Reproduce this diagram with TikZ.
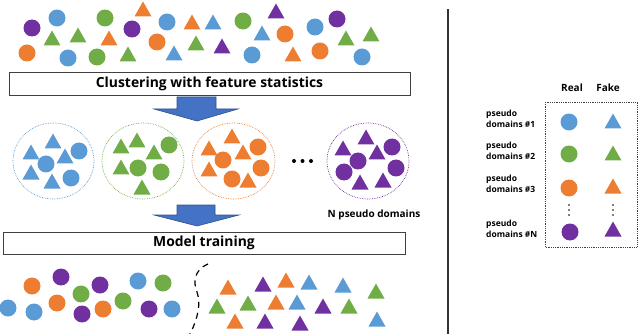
\documentclass[tikz,border=0pt]{standalone}
\usepackage{fontspec}
\setmainfont{Open Sans}
\definecolor{cb}{HTML}{5B9BD5}
\definecolor{cg}{HTML}{70AD47}
\definecolor{co}{HTML}{ED7D31}
\definecolor{cp}{HTML}{7030A0}
\definecolor{arrowfill}{HTML}{4472C4}
\definecolor{arrowline}{HTML}{2F528F}
\newcommand\circS[3]{\fill[#1] (#2,#3) circle (8.5pt);}
\newcommand\triS[3]{\fill[#1] ($(#2,#3)+(-8.5,6.5)$) -- ++(17,0) -- ++(-8.5,-15) -- cycle;}
\usetikzlibrary{calc}
\tikzset{
  stagebox/.style={draw=black!75, line width=0.8pt, inner sep=0pt, font=\bfseries\fontsize{13.9}{16}\selectfont},
  blockarrow/.style={fill=arrowfill, draw=arrowline, line width=0.6pt},
  cluster/.style={densely dotted, line width=0.7pt},
  lbl/.style={font=\bfseries\fontsize{8.5}{10.5}\selectfont, align=left, inner sep=0pt},
  hdr/.style={font=\bfseries\fontsize{10}{12}\selectfont, inner sep=0pt},
}
\begin{document}
\begin{tikzpicture}[x=1pt,y=-1pt]
\useasboundingbox (0,0) rectangle (640,334);
% top scattered
\circS{cp}{32}{28} \circS{cb}{57}{18} \circS{cg}{105}{18} \triS{co}{143}{10}
\triS{cg}{52}{39} \triS{cg}{78}{36} \triS{co}{109}{39} \circS{cp}{132}{29}
\circS{co}{27}{53} \circS{cb}{68}{58} \circS{cg}{97}{57} \triS{cg}{128}{55}
\circS{co}{157}{42} \circS{cb}{167}{22} \triS{co}{192}{23} \triS{cb}{213}{23}
\circS{cg}{243}{21} \triS{cp}{276}{12} \triS{cb}{262}{34} \circS{co}{285}{34}
\circS{cb}{315}{27} \circS{cp}{337}{19} \triS{cg}{346}{39} \triS{cg}{371}{35}
\triS{cb}{174}{54} \triS{cg}{196}{44} \triS{cp}{222}{47} \circS{cb}{252}{55}
\triS{co}{293}{55} \circS{co}{320}{51} \circS{cb}{362}{57}
% stage 1 box
\node[stagebox, minimum width=401pt, minimum height=23pt] (clus) at (209.5,83.5) {Clustering with feature statistics};
% arrow 1
\draw[blockarrow] (177,97) -- (216,97) -- (216,109) -- (238,109) -- (197,121) -- (154,109) -- (177,109) -- cycle;
% clusters
\draw[cluster, cb] (53.5,161) ellipse [x radius=40.5pt, y radius=38pt];
\draw[cluster, cg] (143,161) ellipse [x radius=41pt, y radius=38pt];
\draw[cluster, co] (233.5,161) ellipse [x radius=41.5pt, y radius=38pt];
\draw[cluster, cp] (368,161) ellipse [x radius=41pt, y radius=38pt];
\triS{cb}{53}{142} \triS{cb}{31}{153} \circS{cb}{79}{151} \circS{cb}{46}{164}
\triS{cb}{65}{157} \triS{cb}{31}{173} \triS{cb}{52}{182} \circS{cb}{71}{178}
\triS{cg}{137}{141} \triS{cg}{121}{147} \circS{cg}{169}{145} \triS{cg}{154}{153}
\triS{cg}{121}{168} \circS{cg}{138}{168} \circS{cg}{161}{172} \triS{cg}{142}{188}
\triS{co}{232}{137} \triS{co}{209}{149} \circS{co}{258}{147} \circS{co}{223}{160}
\triS{co}{243}{153} \triS{co}{209}{170} \circS{co}{261}{168} \circS{co}{232}{179}
\triS{co}{248}{181}
\triS{cp}{366}{138} \triS{cp}{343}{149} \circS{cp}{392}{147} \circS{cp}{358}{161}
\triS{cp}{377}{153} \circS{cp}{344}{172} \circS{cp}{396}{168} \triS{cp}{360}{183}
\triS{cp}{383}{181}
\fill (294,161) circle (2pt) (302.5,161) circle (2pt) (311,161) circle (2pt);
\node[hdr] (npd) at (374,215) {N pseudo domains};
% arrow 2
\draw[blockarrow] (177,205) -- (215,205) -- (215,215) -- (239,215) -- (197,226) -- (154,215) -- (177,215) -- cycle;
% stage 2 box
\node[stagebox, minimum width=402pt, minimum height=22pt] (train) at (204,243) {Model training};
% bottom
\circS{cb}{8}{308} \circS{co}{32}{286} \circS{cp}{61}{277} \circS{cb}{34}{312}
\circS{co}{57}{303} \circS{cg}{81}{294} \circS{cp}{82}{314} \circS{cp}{100}{285}
\circS{co}{103}{309} \circS{cg}{123}{301} \circS{cb}{138}{281} \circS{cg}{163}{283}
\circS{cp}{149}{309} \circS{cb}{172}{309}
\draw[dashed, line width=1.2pt, dash pattern=on 6pt off 5pt] (208,264) .. controls (194,270) and (193,282) .. (197,292) .. controls (201,304) and (198,318) .. (190,334);
\triS{co}{228}{288} \triS{cp}{263}{285} \triS{co}{286}{281} \triS{cb}{309}{283}
\triS{cb}{343}{286} \triS{cg}{376}{292} \triS{cg}{217}{307} \triS{cg}{248}{304}
\triS{co}{276}{303} \triS{cb}{297}{303} \triS{cp}{323}{307} \triS{cg}{349}{307}
\triS{co}{235}{322} \triS{cp}{265}{322} \triS{cp}{300}{324} \triS{cb}{377}{320}
% separator
\draw[black!80, line width=1.4pt] (448,9) -- (448,334);
% legend
\node[hdr] (real) at (572,88) {Real};
\node[hdr] (fake) at (608,88) {Fake};
\draw[black!75, densely dotted, line width=0.8pt] (545,102) rectangle (637,247);
\node[lbl, anchor=west] (l1) at (486,119) {pseudo\\domains \#1};
\node[lbl, anchor=west] (l2) at (486,151) {pseudo\\domains \#2};
\node[lbl, anchor=west] (l3) at (486,184) {pseudo\\domains \#3};
\node[lbl, anchor=west] (l4) at (486,229) {pseudo\\domains \#N};
\circS{cb}{569}{122} \triS{cb}{613}{122}
\circS{cg}{569}{154} \triS{cg}{613}{154}
\circS{co}{569}{188} \triS{co}{613}{187}
\circS{cp}{570}{232} \triS{cp}{613}{230}
\fill (569,205) circle (0.9pt) (569,210) circle (0.9pt) (569,215) circle (0.9pt);
\fill (613,205) circle (0.9pt) (613,210) circle (0.9pt) (613,215) circle (0.9pt);
\end{tikzpicture}
\end{document}
